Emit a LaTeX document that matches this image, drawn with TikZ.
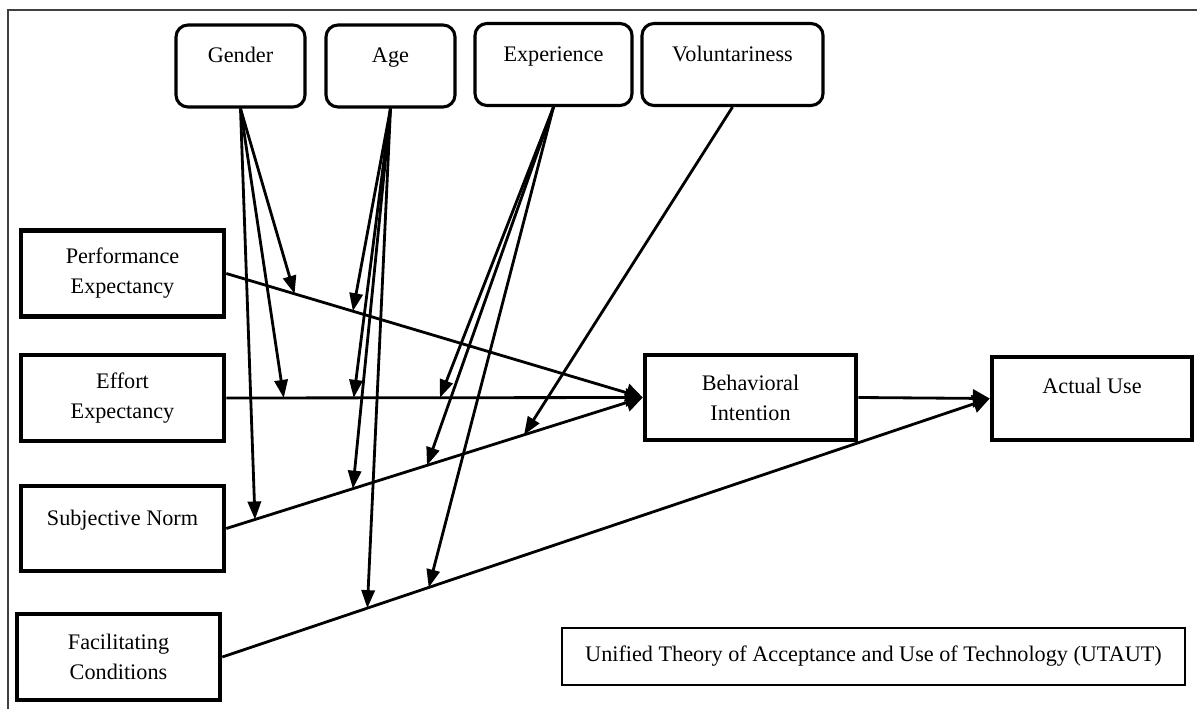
\documentclass[tikz,border=0pt]{standalone}
\usepackage{fontspec}
\setmainfont{Liberation Serif}
\usetikzlibrary{arrows.meta}

\begin{document}
\begin{tikzpicture}[x=0.025cm,y=-0.025cm,
    font=\fontsize{15.8}{21.3}\selectfont,
    modbox/.style={draw,line width=2.2pt,rounded corners=0.3cm,inner sep=0pt,
        text height=0.95cm,text depth=1.1cm},
    facbox/.style={draw,line width=3.2pt,align=center,inner sep=0pt,
        minimum width=5.075cm,minimum height=2.15cm},
    mainarrow/.style={line width=2pt,-{Triangle[length=0.42cm,width=0.45cm]}},
    modarrow/.style={line width=2pt,-{Triangle[length=0.45cm,width=0.33cm]}}]
            \useasboundingbox (0,0) rectangle (1197,709);
            \draw[line width=1pt,black!75] (1197,10) -- (8,10) -- (8,709);
            % moderators
            \node[modbox,minimum width=3.225cm] (gender) at (240.5,66) {Gender};
            \node[modbox,minimum width=3.225cm] (age) at (390.5,66) {Age};
            \node[modbox,minimum width=3.925cm] (exp) at (553.5,64.5) {Experience};
            \node[modbox,minimum width=4.525cm] (vol) at (732.5,64.5) {Voluntariness};
            % determinants
            \node[facbox] (pe) at (122.5,273.5) {Performance\\Expectancy};
            \node[facbox] (ee) at (122.5,398) {Effort\\Expectancy};
            \node[facbox,text height=0.975cm,text depth=1.15cm,minimum height=0pt] (sn) at (122.5,528.5) {Subjective Norm};
            \node[facbox] (fc) at (118.5,657) {Facilitating\\Conditions};
            \node[facbox,minimum width=5.275cm,minimum height=2.125cm] (bi) at (750.5,397.5) {Behavioral\\Intention};
            \node[facbox,minimum width=5cm,text height=0.9cm,text depth=1.175cm,minimum height=0pt] (au) at (1092,398.5) {Actual Use};
            \node[draw,line width=1pt,minimum width=15.575cm,minimum height=1.425cm] (title) at (873.5,656.5)
                {Unified Theory of Acceptance and Use of Technology (UTAUT)};
            % main paths
            \draw[mainarrow] (pe.east) -- (bi.west) coordinate[pos=0.164] (pe-g) coordinate[pos=0.304] (pe-a);
            \draw[mainarrow] (ee.east) -- (bi.west) coordinate[pos=0.138] (ee-g) coordinate[pos=0.306] (ee-a)
                coordinate[pos=0.513] (ee-e);
            \draw[mainarrow] (sn.east) -- (bi.west) coordinate[pos=0.069] (sn-g) coordinate[pos=0.304] (sn-a)
                coordinate[pos=0.482] (sn-e) coordinate[pos=0.715] (sn-v);
            \draw[mainarrow] (bi.east) -- (au.west);
            \draw[mainarrow] (fc.east) -- (au.west) coordinate[pos=0.189] (fc-a) coordinate[pos=0.269] (fc-e);
            % moderating arrows
            \foreach \t in {pe-g,ee-g,sn-g} \draw[modarrow] (gender.south) -- (\t);
            \foreach \t in {pe-a,ee-a,sn-a,fc-a} \draw[modarrow] (age.south) -- (\t);
            \foreach \t in {ee-e,sn-e,fc-e} \draw[modarrow] (exp.south) -- (\t);
            \draw[modarrow] (vol.south) -- (sn-v);
          \end{tikzpicture}
\end{document}
